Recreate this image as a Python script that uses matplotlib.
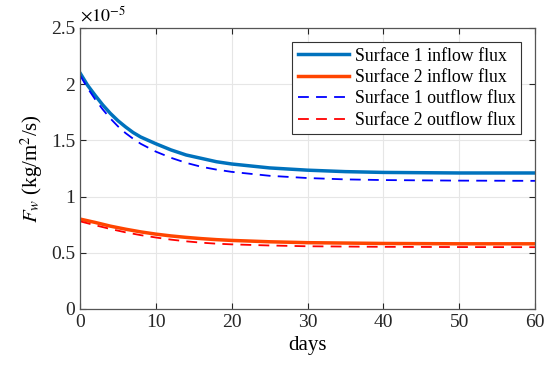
import numpy as np
import matplotlib.pyplot as plt
from matplotlib.ticker import FuncFormatter

plt.rcParams["font.family"] = "Liberation Serif"
plt.rcParams["mathtext.fontset"] = "stix"

# values in units of 1e-5 kg/m^2/s
days1 = [0, 1, 2, 3, 4, 5, 6, 7, 8, 9, 10, 12, 14, 16, 18, 20, 25, 30, 35, 40, 50, 60]
in1 = [2.10, 1.99, 1.90, 1.815, 1.74, 1.675, 1.62, 1.57, 1.53, 1.50, 1.47, 1.415, 1.37,
       1.34, 1.31, 1.29, 1.255, 1.235, 1.222, 1.215, 1.21, 1.21]
out1 = [2.08, 1.965, 1.865, 1.775, 1.695, 1.625, 1.565, 1.515, 1.47, 1.435, 1.40, 1.345,
        1.30, 1.265, 1.24, 1.22, 1.185, 1.165, 1.153, 1.147, 1.142, 1.14]
days2 = [0, 2, 4, 6, 8, 10, 12, 14, 16, 18, 20, 25, 30, 40, 50, 60]
in2 = [0.80, 0.77, 0.737, 0.71, 0.686, 0.666, 0.65, 0.637, 0.626, 0.617, 0.61, 0.598,
       0.59, 0.583, 0.58, 0.58]
out2 = [0.78, 0.745, 0.712, 0.682, 0.657, 0.636, 0.617, 0.602, 0.59, 0.581, 0.575, 0.565,
        0.558, 0.553, 0.551, 0.55]

scale = 1e-5

fig = plt.figure(figsize=(5.5, 3.73), dpi=100)
ax = fig.add_axes([0.1455, 0.1716, 0.8272, 0.7534])
ax.plot(days1, np.array(in1) * scale, "-", color="#0072BD", lw=2.5, label="Surface 1 inflow flux")
ax.plot(days2, np.array(in2) * scale, "-", color="#FF4500", lw=2.5, label="Surface 2 inflow flux")
ax.plot(days1, np.array(out1) * scale, "--", color="#0000FF", lw=1.3, dashes=(6, 4), label="Surface 1 outflow flux")
ax.plot(days2, np.array(out2) * scale, "--", color="#FF0000", lw=1.3, dashes=(6, 4), label="Surface 2 outflow flux")

ax.set_xlim(0, 60)
ax.set_ylim(0, 2.5e-5)
ax.set_xticks(np.arange(0, 61, 10))
ax.set_yticks(np.arange(0, 2.51e-5, 0.5e-5))
ax.yaxis.set_major_formatter(FuncFormatter(lambda v, p: "%g" % round(v / scale, 3)))
ax.text(0.0, 1.01, r"$\times10^{-5}$", transform=ax.transAxes, fontsize=13, va="bottom", ha="left")

ax.grid(True, color="#e6e6e6", lw=0.8)
ax.set_axisbelow(True)
ax.tick_params(direction="in", top=True, right=True, labelsize=14, colors="#262626", length=4)
for s in ax.spines.values():
    s.set_color("#555555")
    s.set_linewidth(0.9)

ax.set_xlabel("days", fontsize=15)
ax.set_ylabel("$F_w$ (kg/m$^2$/s)", fontsize=15)

leg = ax.legend(loc="upper right", fontsize=12.8, fancybox=False, framealpha=1,
                edgecolor="#333333", handlelength=2.9, borderpad=0.3, labelspacing=0.25,
                handletextpad=0.3, borderaxespad=0.8)
leg.get_frame().set_linewidth(0.8)

fig.savefig("out.png", dpi=100)
